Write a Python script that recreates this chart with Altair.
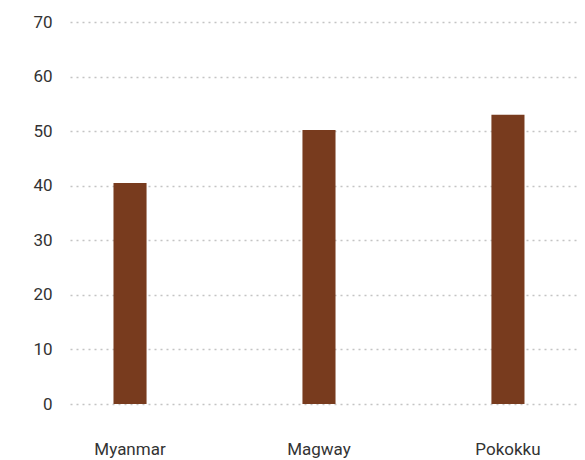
import altair as alt
import pandas as pd

regions = ["Myanmar", "Magway", "Pokokku"]
values = [40.5, 50.2, 53.0]

df = pd.DataFrame({"region": regions, "value": values})

chart = alt.Chart(df).mark_bar(color="#783B1E").encode(
    x=alt.X("region:N", sort=regions, title=None,
            scale=alt.Scale(paddingInner=0.825, paddingOuter=0.254, align=0.453),
            axis=alt.Axis(labelAngle=0, domain=False, ticks=False, labelPadding=37,
                          labelFontSize=17, labelColor="#333333", labelFont="Roboto")),
    y=alt.Y("value:Q", title=None,
            scale=alt.Scale(domain=[0, 70], nice=False),
            axis=alt.Axis(values=[0, 10, 20, 30, 40, 50, 60, 70], domain=False, ticks=False,
                          labelPadding=18, labelFontSize=17, labelColor="#333333",
                          labelFont="Roboto",
                          gridColor="#c4c4c4", gridDash=[2, 4], gridWidth=1.5)),
).properties(
    width=507, height=382,
    autosize=alt.AutoSizeParams(type="none"),
    padding={"left": 62, "top": 14, "right": 0, "bottom": 54},
).configure_view(stroke=None)

chart.save("out.html", embed_options={"renderer": "svg", "actions": False})
